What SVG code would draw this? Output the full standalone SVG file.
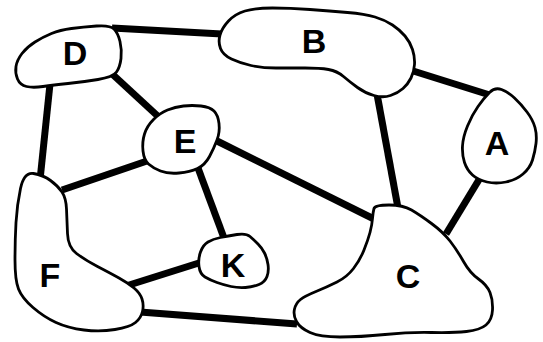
<svg xmlns="http://www.w3.org/2000/svg" width="543" height="342" viewBox="0 0 543 342">
<style>
.edge{stroke:#000;stroke-width:7;fill:none;stroke-linecap:butt}
.blob{fill:#fff;stroke:#000;stroke-width:2.8;stroke-linejoin:round}
.lbl{font-family:"Liberation Sans",Arial,sans-serif;font-weight:bold;font-size:34px;fill:#000;text-anchor:middle}
</style>
<rect width="543" height="342" fill="#fff"/>
<g id="connectors">
<line class="edge" x1="112" y1="28" x2="222" y2="34"/>
<line class="edge" x1="110" y1="72" x2="162" y2="120"/>
<line class="edge" x1="50" y1="84" x2="40" y2="180"/>
<line class="edge" x1="147" y1="161" x2="62" y2="190"/>
<line class="edge" x1="215" y1="140" x2="376" y2="220"/>
<line class="edge" x1="198" y1="168" x2="224" y2="238"/>
<line class="edge" x1="202" y1="262" x2="126" y2="286"/>
<line class="edge" x1="140" y1="312" x2="297" y2="324"/>
<line class="edge" x1="377" y1="94" x2="398" y2="208"/>
<line class="edge" x1="410" y1="70" x2="493" y2="96"/>
<line class="edge" x1="480" y1="178" x2="446" y2="234"/>
</g>
<g id="node-D">
<path class="blob" d="M 98,79.5 Q 83,82 68,83.5 Q 53,85 43,86.5 Q 33,88 26.5,86.5 Q 20,85 17.5,79 Q 15,73 16,66.5 Q 17,60 22,53.5 Q 27,47 35,42 Q 43,37 51.5,33.5 Q 60,30 71.5,28.5 Q 83,27 96.5,26 Q 110,25 114,29 Q 118,33 120,41.5 Q 122,50 121,58.5 Q 120,67 116.5,72 Q 113,77 98,79.5 Z"/>
<text class="lbl" x="75" y="65">D</text>
</g>
<g id="node-B">
<path class="blob" d="M 231.5,59 Q 223,55 220.5,48.5 Q 218,42 220,35 Q 222,28 228.5,21 Q 235,14 245,11 Q 255,8 272.5,8 Q 290,8 310,9.5 Q 330,11 347.5,12.5 Q 365,14 375,17 Q 385,20 392.5,25 Q 400,30 405,36 Q 410,42 412.5,49.5 Q 415,57 414.5,64.5 Q 414,72 411,78 Q 408,84 403,88.5 Q 398,93 390.5,95.5 Q 383,98 374,95.5 Q 365,93 357.5,87.5 Q 350,82 343.5,76.5 Q 337,71 328.5,69.5 Q 320,68 305,68 Q 290,68 276,68 Q 262,68 251,65.5 Q 240,63 231.5,59 Z"/>
<text class="lbl" x="314" y="53">B</text>
</g>
<g id="node-A">
<path class="blob" d="M 501.5,89.5 Q 508,92 514.5,98 Q 521,104 527,112 Q 533,120 535,127.5 Q 537,135 536,143.5 Q 535,152 532.5,160 Q 530,168 523,174 Q 516,180 506,182 Q 496,184 487,182 Q 478,180 472.5,175 Q 467,170 464.5,162.5 Q 462,155 462.5,146 Q 463,137 467.5,126 Q 472,115 478,106.5 Q 484,98 489.5,92.5 Q 495,87 501.5,89.5 Z"/>
<text class="lbl" x="497" y="155">A</text>
</g>
<g id="node-E">
<path class="blob" d="M 167.5,110 Q 175,107 183.5,106 Q 192,105 201,106 Q 210,107 214,111 Q 218,115 219,123.5 Q 220,132 217,140 Q 214,148 209.5,156.5 Q 205,165 197.5,168.5 Q 190,172 179,173 Q 168,174 160.5,171 Q 153,168 148.5,164 Q 144,160 143,151 Q 142,142 144.5,134 Q 147,126 153.5,119.5 Q 160,113 167.5,110 Z"/>
<text class="lbl" x="185" y="153">E</text>
</g>
<g id="node-K">
<path class="blob" d="M 208,242 Q 213,239 220.5,237.5 Q 228,236 237,234.5 Q 246,233 250,236.5 Q 254,240 258,244 Q 262,248 264.5,253 Q 267,258 268,264.5 Q 269,271 267,276.5 Q 265,282 259,284.5 Q 253,287 245.5,287.5 Q 238,288 231,286.5 Q 224,285 217,282.5 Q 210,280 205,277 Q 200,274 199,266.5 Q 198,259 200.5,252 Q 203,245 208,242 Z"/>
<text class="lbl" x="233" y="277">K</text>
</g>
<g id="node-F">
<path class="blob" d="M 33.5,173.5 Q 43,175 50.5,180.5 Q 58,186 62,192 Q 66,198 66.5,209 Q 67,220 67.5,233.5 Q 68,247 76.5,253.5 Q 85,260 97.5,266.5 Q 110,273 119,278 Q 128,283 134,288 Q 140,293 142,299 Q 144,305 142.5,311.5 Q 141,318 135.5,322.5 Q 130,327 115,329.5 Q 100,332 84,330 Q 68,328 56,322.5 Q 44,317 33,307.5 Q 22,298 18.5,289 Q 15,280 15,260 Q 15,240 16,222.5 Q 17,205 20.5,188.5 Q 24,172 33.5,173.5 Z"/>
<text class="lbl" x="50" y="287">F</text>
</g>
<g id="node-C">
<path class="blob" d="M 389,205 Q 403,205 411.5,210 Q 420,215 431.5,223.5 Q 443,232 450,241 Q 457,250 463.5,261.5 Q 470,273 478.5,279 Q 487,285 490,292.5 Q 493,300 492.5,310 Q 492,320 486,325 Q 480,330 466.5,331.5 Q 453,333 431.5,332.5 Q 410,332 385,334.5 Q 360,337 340,337 Q 320,337 310,332.5 Q 300,328 296.5,321.5 Q 293,315 294.5,309 Q 296,303 300.5,299.5 Q 305,296 316,291.5 Q 327,287 337,282 Q 347,277 353.5,268.5 Q 360,260 364,250 Q 368,240 370,232.5 Q 372,225 372.5,218.5 Q 373,212 374,208.5 Q 375,205 389,205 Z"/>
<text class="lbl" x="408" y="288">C</text>
</g>
</svg>
